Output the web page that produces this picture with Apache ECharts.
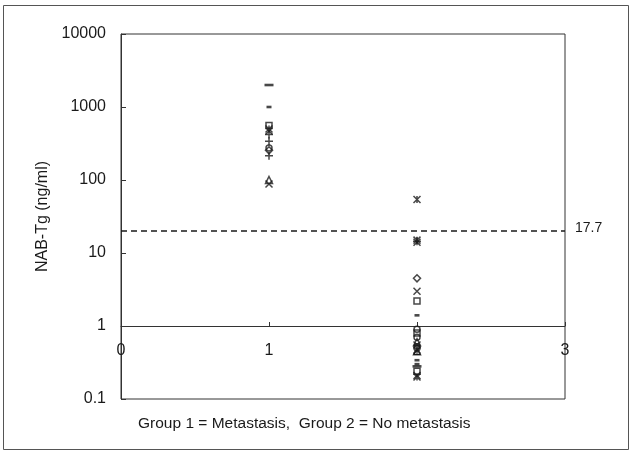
<!DOCTYPE html>
<html>
<head>
<meta charset="utf-8">
<script src="https://cdn.jsdelivr.net/npm/echarts@6/dist/echarts.min.js"></script>
<style>html,body{margin:0;padding:0;background:#fff}#c{width:634px;height:456px}</style>
</head>
<body>
<div id="c"></div>
<script>
// ---- data (group on x, NAB-Tg ng/ml on y) ----
const xTicks = [0, 1, 2, 3];
const yTicks = [0.1, 1, 10, 100, 1000, 10000];
const cutoffValue = 20;          // drawn position of dashed cut-off
const cutoffLabel = '17.7';

const longDashG1 = [2000];          const longDashG2 = [0.28];
const dashG1 = [1000];              const dashG2 = [1.4, 0.34, 0.3];
const squareG1 = [560];             const squareG2 = [2.2, 0.8, 0.24];
const asteriskG1 = [500];           const asteriskG2 = [54, 15, 0.47, 0.2];
const crossG1 = [470, 88];          const crossG2 = [14, 3.0, 0.55, 0.21];
const plusG1 = [420, 340, 215];     const plusG2 = [14.5];
const circleG1 = [275];             const circleG2 = [0.9, 0.7, 0.5];
const diamondG1 = [255];            const diamondG2 = [4.5];
const triangleG1 = [100];           const triangleG2 = [0.6, 0.45];

const pts = (g1, g2) => g1.map(v => [1, v]).concat(g2.map(v => [2, v]));

const ink = '#1a1a1a';
const hollow = {color: 'none', borderColor: ink, borderWidth: 1.5};
const filled = {color: ink, borderWidth: 0};

function ser(name, data, symbol, size, style) {
  return {
    name, type: 'scatter', data, symbol, symbolSize: size,
    itemStyle: style, silent: true, animation: false,
    emphasis: {disabled: true}
  };
}

const series = [
  ser('longdash', pts(longDashG1, longDashG2), 'rect', [9, 2.6], filled),
  ser('dash', pts(dashG1, dashG2), 'rect', [5, 2.6], filled),
  ser('square', pts(squareG1, squareG2), 'rect', 6, hollow),
  ser('asterisk', pts(asteriskG1, asteriskG2), 'path://M0,0L10,10M10,0L0,10M5,0L5,10', 7, hollow),
  ser('cross', pts(crossG1, crossG2), 'path://M0,0L10,10M10,0L0,10', 7, hollow),
  ser('plus', pts(plusG1, plusG2), 'path://M5,0L5,10M0,5L10,5', 8, hollow),
  ser('circle', pts(circleG1, circleG2), 'circle', 6, hollow),
  ser('diamond', pts(diamondG1, diamondG2), 'diamond', 7, hollow),
  ser('triangle', pts(triangleG1, triangleG2), 'triangle', 7, hollow)
];
series[0].markLine = {
  silent: true, symbol: 'none', animation: false,
  label: {show: false},
  lineStyle: {color: ink, type: [6, 4], width: 1.5},
  data: [{yAxis: cutoffValue}]
};

const chart = echarts.init(document.getElementById('c'), null, {renderer: 'canvas'});
const font = 'Liberation Sans, Arial, sans-serif';
chart.setOption({
  backgroundColor: '#fff',
  animation: false,
  textStyle: {fontFamily: font},
  grid: {left: 121, right: 69, top: 34, bottom: 57, show: true, borderColor: '#333', borderWidth: 1},
  xAxis: {
    type: 'value', min: xTicks[0], max: xTicks[xTicks.length - 1], interval: 1,
    position: 'bottom', offset: -73,
    axisLine: {show: true, lineStyle: {color: '#333', width: 1}},
    axisTick: {show: true, inside: true, length: 4, lineStyle: {color: '#333'}},
    axisLabel: {color: ink, fontSize: 16, margin: 17, fontFamily: font},
    splitLine: {show: false}
  },
  yAxis: {
    type: 'log', logBase: 10, min: yTicks[0], max: yTicks[yTicks.length - 1],
    name: 'NAB-Tg (ng/ml)', nameLocation: 'middle', nameGap: 70,
    nameTextStyle: {color: ink, fontSize: 16, fontFamily: font},
    axisLine: {show: true, lineStyle: {color: '#333', width: 1}},
    axisTick: {show: true, inside: true, length: 5, lineStyle: {color: '#333'}},
    axisLabel: {color: ink, fontSize: 16, margin: 15, fontFamily: font,
      formatter: v => String(Number(Number(v).toPrecision(3)))},
    splitLine: {show: false}
  },
  graphic: [
    {type: 'rect', shape: {x: 3.5, y: 5.5, width: 625, height: 444},
     style: {fill: 'none', stroke: '#555', lineWidth: 1}, silent: true, z: -1},
    {type: 'text', left: 138, top: 416,
     style: {text: 'Group 1 = Metastasis,  Group 2 = No metastasis', fill: ink, font: '15.5px ' + font}},
    {type: 'text', left: 575, top: 221,
     style: {text: cutoffLabel, fill: ink, font: '14px ' + font}}
  ],
  series
});
</script>
</body>
</html>
